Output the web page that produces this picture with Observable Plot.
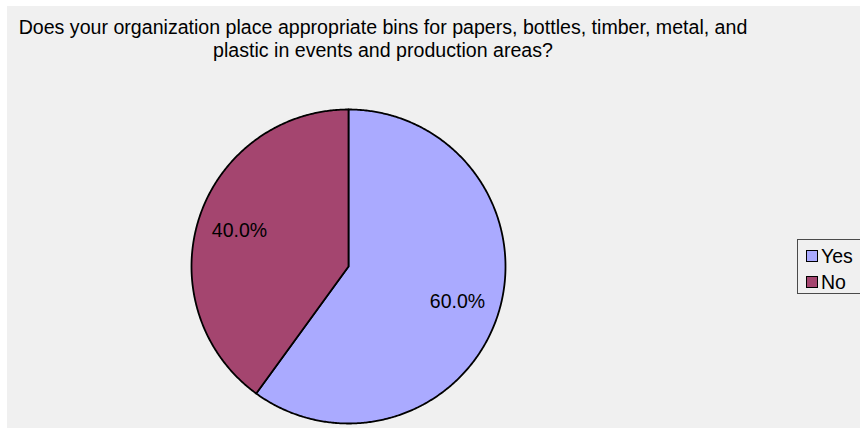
<!DOCTYPE html>
<html>
<head>
<meta charset="utf-8">
<script src="https://cdn.jsdelivr.net/npm/d3@7"></script>
<script src="https://cdn.jsdelivr.net/npm/@observablehq/plot@0.6"></script>
<style>
  html, body { margin: 0; padding: 0; background: #ffffff; }
  #wrap { position: relative; width: 860px; height: 428px; overflow: hidden; background: #ffffff; }
  #chart { position: absolute; left: 7px; top: 6px; width: 853px; height: 422px; background: #f0f0f0; }
  #chart svg { display: block; background: #f0f0f0; }
  #legend { position: absolute; left: 797px; top: 239px; width: 80px; height: 55px; border: 1px solid #4a4a4a; box-sizing: border-box;
            font-family: "Liberation Sans", Arial, sans-serif; font-size: 19.5px; color: #000; }
  .row { position: absolute; left: 8px; display: flex; align-items: center; height: 22px; }
  .sw { width: 10px; height: 10px; border: 1px solid #000; margin-right: 3px; }
</style>
</head>
<body>
<div id="wrap">
  <div id="chart"></div>
  <div id="legend"></div>
</div>
<script>
const titleLines = [
  "Does your organization place appropriate bins for papers, bottles, timber, metal, and",
  "plastic in events and production areas?"
];
const categories = ["Yes", "No"];
const percents = [60.0, 40.0];
const colors = ["#aaaaff", "#a4456f"];

const W = 853, H = 422;
const cx = 341, cy = 260, R = 157;

const pie = d3.pie().sort(null).value(d => d.value);
const arcs = pie(categories.map((c, i) => ({category: c, value: percents[i]})));

// polygon points for each slice (unit circle space, angle clockwise from 12 o'clock)
const slicePts = [];
arcs.forEach(a => {
  const c = a.data.category;
  slicePts.push({category: c, x: 0, y: 0});
  const n = Math.max(2, Math.ceil((a.endAngle - a.startAngle) / (Math.PI / 360)));
  for (let k = 0; k <= n; k++) {
    const t = a.startAngle + (a.endAngle - a.startAngle) * k / n;
    slicePts.push({category: c, x: Math.sin(t), y: Math.cos(t)});
  }
  slicePts.push({category: c, x: 0, y: 0});
});

const labels = arcs.map(a => {
  const m = (a.startAngle + a.endAngle) / 2;
  return {category: a.data.category, text: a.data.value.toFixed(1) + "%", x: 0.73 * Math.sin(m), y: 0.73 * Math.cos(m)};
});

const titleData = titleLines.map((t, i) => ({t, i}));

const chart = Plot.plot({
  width: W,
  height: H,
  margin: 0,
  style: {background: "#f0f0f0", fontFamily: "'Liberation Sans', Arial, sans-serif"},
  x: {domain: [-1, 1], range: [cx - R, cx + R], axis: null},
  y: {domain: [-1, 1], range: [cy + R, cy - R], axis: null},
  color: {domain: categories, range: colors},
  marks: [
    Plot.line(slicePts, {x: "x", y: "y", z: "category", fill: "category", stroke: "#000", strokeWidth: 1.8, strokeLinejoin: "round", curve: "linear"}),
    Plot.text(labels, {x: "x", y: "y", text: "text", fontSize: 19.5, fill: "#000"}),
    Plot.text(titleData.filter(d => d.i === 0), {text: "t", frameAnchor: "top", dx: -51, dy: 21, lineAnchor: "middle", fontSize: 19.6, fill: "#000"}),
    Plot.text(titleData.filter(d => d.i === 1), {text: "t", frameAnchor: "top", dx: -51, dy: 44, lineAnchor: "middle", fontSize: 19.6, fill: "#000"})
  ]
});
document.getElementById("chart").appendChild(chart);

const color = chart.scale("color");
const legend = document.getElementById("legend");
categories.forEach((c, i) => {
  const row = document.createElement("div");
  row.className = "row";
  row.style.top = (5 + i * 26) + "px";
  const sw = document.createElement("div");
  sw.className = "sw";
  sw.style.background = color.apply(c);
  const tx = document.createElement("span");
  tx.textContent = c;
  row.appendChild(sw);
  row.appendChild(tx);
  legend.appendChild(row);
});
</script>
</body>
</html>
